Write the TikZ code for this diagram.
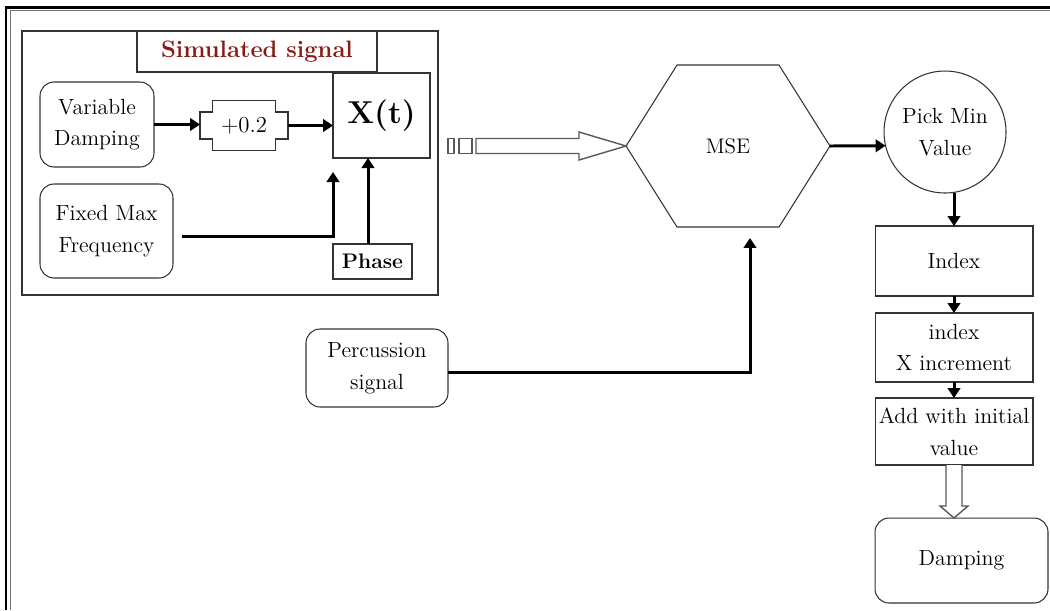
\documentclass[tikz,border=0pt]{standalone}
\usepackage{fontspec}
\usetikzlibrary{arrows.meta}
\definecolor{titlered}{RGB}{135,28,22}
\begin{document}
\begin{tikzpicture}[x=0.02cm,y=-0.02cm,
		block/.style={draw=black!80, line width=0.6pt, align=center, inner sep=1pt, outer sep=0pt, font=\fontsize{12.5}{18}\selectfont},
		rblock/.style={block, rounded corners=0.28cm},
		arr/.style={line width=1.7pt, -{Triangle[length=0.2cm,width=0.25cm]}},
		fatarrow/.style={draw=black!65, line width=0.8pt, fill=white}]
	\useasboundingbox (0,0) rectangle (1050,610);
	\draw[line width=1.6pt] (6,610) -- (6,7.5) -- (1050,7.5);
	\draw[black!55, line width=0.8pt] (10.5,610) -- (10.5,10.5) -- (1050,10.5);
	\node[draw=black!80, line width=1pt, minimum width=8.32cm, minimum height=5.28cm] (sim) at (230,163) {};
	\node[block, minimum width=4.8cm, minimum height=0.82cm, font=\fontsize{13.5}{15}\selectfont\bfseries, text=titlered] (title) at (257,51.5) {Simulated signal};
	\node[rblock, minimum width=2.28cm, minimum height=1.7cm] (vardamp) at (97,124.5) {Variable\\Damping};
	\node[minimum width=1.76cm, minimum height=0.54cm, inner sep=0pt, outer sep=0pt, font=\fontsize{13}{14}\selectfont] (plus) at (244,125.5) {+0.2};
	\draw[draw=black!80, line width=0.6pt] (plus.north west) -- ++(12.5,0) -- ++(0,-11.5) -- ++(63,0) -- ++(0,11.5) -- (plus.north east) -- (plus.south east) -- ++(-12.5,0) -- ++(0,11.5) -- ++(-63,0) -- ++(0,-11.5) -- (plus.south west) -- cycle;
	\node[block, minimum width=1.94cm, minimum height=1.7cm, font=\fontsize{18}{20}\selectfont\bfseries] (xt) at (381.5,115.5) {X(t)};
	\node[rblock, minimum width=2.66cm, minimum height=1.88cm] (fixfreq) at (106.5,231) {Fixed Max\\Frequency};
	\node[block, minimum width=1.58cm, minimum height=0.7cm, font=\fontsize{12}{14}\selectfont\bfseries] (phase) at (372.5,261.5) {Phase};
	\node[rblock, minimum width=2.84cm, minimum height=1.56cm] (perc) at (377,368) {Percussion\\signal};
	\node[minimum width=4.08cm, minimum height=3.24cm, outer sep=0pt, font=\fontsize{12}{14}\selectfont] (mse) at (728,146) {MSE};
	\draw[draw=black!80, line width=0.6pt] (mse.west) -- ([xshift=-1.02cm]mse.north) -- ([xshift=1.02cm]mse.north) -- (mse.east) -- ([xshift=1.02cm]mse.south) -- ([xshift=-1.02cm]mse.south) -- cycle;
	\node[block, circle, minimum size=2.44cm, inner sep=0pt] (pick) at (945,132) {Pick Min\\Value};
	\node[block, minimum width=3.16cm, minimum height=1.4cm] (index) at (954,261) {Index};
	\node[block, minimum width=3.16cm, minimum height=1.38cm] (incr) at (954,347.5) {index\\X increment};
	\node[block, minimum width=3.16cm, minimum height=1.34cm] (add) at (954,431.5) {Add with initial\\value};
	\node[rblock, minimum width=3.46cm, minimum height=1.7cm] (damp) at (961.5,560.5) {Damping};
	\draw[arr] (vardamp.east) -- (vardamp.east -| plus.west);
	\draw[arr] (plus.east) -- (plus.east -| xt.west);
	\draw[arr] ([shift={(9,5)}]fixfreq.east) -| ([shift={(0,14)}]xt.south west);
	\draw[arr] ([shift={(-4.5,0)}]phase.north) -- ([shift={(-4.5,0)}]phase.north |- xt.south);
	\draw[arr] ([shift={(0,4)}]perc.east) -| ([shift={(22,11)}]mse.south);
	\draw[arr] (mse.east) -- (pick.193);
	\draw[arr] (index.north |- pick.south) -- (index.north);
	\draw[arr] (index.south) -- (incr.north);
	\draw[arr] (incr.south) -- (add.north);
	\draw[fatarrow] (mse.west) -- ++(-47,-14) -- ++(0,6.5) -- ++(-103,0) -- ++(0,15) -- ++(103,0) -- ++(0,6.5) -- cycle;
	\draw[fatarrow] (mse.west) ++(-154,-7.5) rectangle ++(-13,15);
	\draw[fatarrow] (mse.west) ++(-172,-7.5) rectangle ++(-6,15);
	\draw[fatarrow] (add.south) ++(-8,0) -- ++(0,41) -- ++(-6,0) -- ++(14,12) -- ++(14,-12) -- ++(-6,0) -- ++(0,-41);
\end{tikzpicture}
\end{document}
